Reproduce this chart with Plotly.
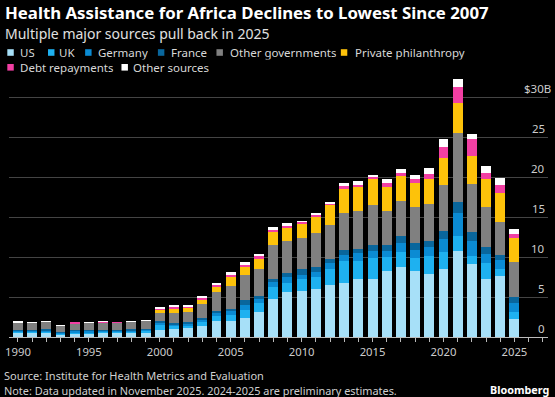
import plotly.graph_objects as go

years = list(range(1990, 2026))

us = [0.5, 0.5, 0.55, 0.3, 0.45, 0.45, 0.5, 0.5, 0.45, 0.5,
      0.9, 1.0, 1.15, 1.35, 2.0, 2.0, 2.4, 3.1, 4.8, 5.6,
      5.75, 6.0, 6.45, 6.75, 7.2, 7.3, 8.25, 8.7, 8.2, 7.9,
      8.5, 10.75, 9.1, 7.2, 7.6, 2.3]
uk = [0.15, 0.15, 0.15, 0.1, 0.15, 0.15, 0.15, 0.15, 0.25, 0.3,
      0.55, 0.33, 0.3, 0.55, 0.6, 0.7, 1.0, 1.15, 1.4, 1.15,
      1.45, 1.5, 2.05, 2.75, 2.3, 2.6, 1.75, 1.9, 1.7, 2.2,
      2.1, 1.85, 1.0, 2.0, 0.9, 0.8]
germany = [0.15, 0.1, 0.15, 0.1, 0.15, 0.15, 0.15, 0.1, 0.15, 0.15,
           0.3, 0.27, 0.2, 0.25, 0.4, 0.55, 0.6, 0.55, 0.7, 0.75,
           0.6, 0.6, 0.7, 0.7, 1.0, 0.85, 0.75, 1.15, 1.0, 1.15,
           1.7, 2.9, 1.9, 1.2, 1.1, 1.1]
france = [0.1, 0.1, 0.1, 0.1, 0.1, 0.1, 0.1, 0.1, 0.1, 0.1,
          0.2, 0.15, 0.25, 0.25, 0.25, 0.3, 0.6, 0.3, 0.4, 0.5,
          0.7, 0.7, 0.6, 0.7, 0.5, 0.75, 0.75, 0.85, 0.8, 0.75,
          1.0, 1.4, 1.1, 0.9, 0.7, 0.8]
other_gov = [0.95, 0.9, 1.0, 0.8, 0.85, 0.9, 0.95, 0.9, 1.0, 1.0,
             1.05, 1.25, 1.25, 1.75, 2.35, 2.85, 3.1, 3.4, 4.2, 4.0,
             3.9, 4.2, 4.2, 4.6, 4.8, 5.0, 4.25, 4.4, 4.5, 4.6,
             5.7, 8.6, 6.0, 4.9, 4.1, 4.4]
private = [0, 0, 0, 0, 0, 0, 0, 0, 0, 0,
           0.4, 0.6, 0.5, 0.5, 0.7, 1.1, 1.1, 1.3, 1.6, 1.7,
           1.8, 2.1, 2.5, 3.0, 2.95, 3.2, 3.05, 3.1, 3.1, 3.2,
           3.4, 3.8, 3.5, 3.6, 3.6, 3.0]
debt = [0, 0, 0, 0, 0.1, 0, 0.05, 0.1, 0, 0,
        0.2, 0.15, 0.2, 0.2, 0.3, 0.25, 0.2, 0.3, 0.3, 0.2,
        0.2, 0.2, 0.2, 0.4, 0.25, 0.25, 0.45, 0.4, 0.5, 0.6,
        1.4, 1.95, 2.2, 0.7, 1.0, 0.5]
other_src = [0.05, 0.05, 0.05, 0.05, 0.0, 0.02, 0.02, 0.0, 0.05, 0.05,
             0.15, 0.15, 0.15, 0.25, 0.2, 0.35, 0.4, 0.3, 0.35, 0.3,
             0.1, 0.15, 0.2, 0.35, 0.5, 0.35, 0.45, 0.5, 0.4, 0.7,
             1.0, 0.95, 0.6, 0.9, 0.9, 0.6]

series_names = ["US", "UK", "Germany", "France", "Other governments",
                "Private philanthropy", "Debt repayments", "Other sources"]
series_values = [us, uk, germany, france, other_gov, private, debt, other_src]
colors = ["#a7e0f8", "#1eb1f0", "#0b8bd3", "#09669c", "#808080",
          "#fdc20a", "#f23fa3", "#ffffff"]

x_ticks = [1990, 1995, 2000, 2005, 2010, 2015, 2020, 2025]
y_ticks = [0, 5, 10, 15, 20, 25, 30]
y_tick_labels = ["0", "5", "10", "15", "20", "25", "$30B"]

FONT = "Noto Sans"
W, H = 555, 397
L, R, T, B = 5, 7, 75, 60
pw, ph = W - L - R, H - T - B


def px(x):
    return (x - L) / pw


def py(y):
    return (H - B - y) / ph


fig = go.Figure()
for name, vals, col in zip(series_names, series_values, colors):
    fig.add_trace(go.Bar(x=years, y=vals, name=name, marker_color=col,
                         marker_line_width=0, showlegend=False))

annotations = []
shapes = []

annotations.append(dict(text="<b>Health Assistance for Africa Declines to Lowest Since 2007</b>",
                        x=px(-1), y=py(12), xref="paper", yref="paper", xanchor="left",
                        yanchor="middle", showarrow=False,
                        font=dict(family=FONT, size=16.8, color="#ffffff")))
annotations.append(dict(text="Multiple major sources pull back in 2025",
                        x=px(-1), y=py(33), xref="paper", yref="paper", xanchor="left",
                        yanchor="middle", showarrow=False,
                        font=dict(family=FONT, size=14, color="#e0e0e0")))

legend_pos = [(3.3, 15, 52.5), (44.3, 54, 52.5), (81.7, 94, 52.5), (155, 166.7, 52.5),
              (214, 226.7, 52.5), (339.3, 352.3, 52.5), (3.3, 15, 67.3), (118.3, 129, 67.3)]
for (sx, tx, cy), name, col in zip(legend_pos, series_names, colors):
    shapes.append(dict(type="rect", xref="paper", yref="paper",
                       x0=px(sx), x1=px(sx + 6.5), y0=py(cy - 3.3), y1=py(cy + 3.3),
                       fillcolor=col, line_width=0))
    annotations.append(dict(text=name, x=px(tx), y=py(cy), xref="paper", yref="paper",
                            xanchor="left", yanchor="middle", showarrow=False,
                            height=14.6, valign="middle", borderpad=0,
                            font=dict(family=FONT, size=11.5, color="#d8d8d8")))

for v, lab in zip(y_ticks, y_tick_labels):
    xr = 547 if lab != "$30B" else 553
    annotations.append(dict(text=lab, x=px(xr), y=v, xref="paper", yref="y",
                            xanchor="right", yanchor="middle", yshift=9, showarrow=False,
                            font=dict(family=FONT, size=11.5, color="#cccccc")))

annotations.append(dict(text="Source: Institute for Health Metrics and Evaluation",
                        x=px(-1), y=py(375.5), xref="paper", yref="paper", xanchor="left",
                        yanchor="middle", showarrow=False, height=14.5, borderpad=0,
                        font=dict(family=FONT, size=11, color="#d0d0d0")))
annotations.append(dict(text="Note: Data updated in November 2025. 2024-2025 are preliminary estimates.",
                        x=px(-1), y=py(390.5), xref="paper", yref="paper", xanchor="left",
                        yanchor="middle", showarrow=False, height=14.5, borderpad=0,
                        font=dict(family=FONT, size=10.9, color="#d0d0d0")))
annotations.append(dict(text="<b>Bloomberg</b>",
                        x=px(551), y=py(389.5), xref="paper", yref="paper", xanchor="right",
                        yanchor="middle", showarrow=False,
                        font=dict(family=FONT, size=10.8, color="#ffffff")))

span = pw / 14.29
x0 = 1990 - (14 - L) / 14.29

fig.update_layout(
    width=W, height=H,
    margin=dict(l=L, r=R, t=T, b=B, pad=0),
    paper_bgcolor="#000000", plot_bgcolor="#000000",
    barmode="stack", bargap=0.3,
    showlegend=False,
    annotations=annotations, shapes=shapes,
    xaxis=dict(range=[x0, x0 + span], tickvals=x_ticks, ticks="outside", ticklen=4,
               tickcolor="#bbbbbb", showline=True, linecolor="#bbbbbb", linewidth=1,
               showgrid=False, zeroline=False,
               tickfont=dict(family=FONT, size=11.3, color="#cccccc"),
               minor=dict(dtick=1, tick0=1990, ticks="outside", ticklen=4, tickcolor="#bbbbbb")),
    yaxis=dict(range=[0, ph / 8], tickvals=y_ticks, showticklabels=False,
               showgrid=True, gridcolor="#444444", gridwidth=1, zeroline=False,
               fixedrange=True),
)

fig.write_html("out.html", config={"displayModeBar": False},
               post_script="document.body.style.margin='0';document.body.style.overflow='hidden';")
